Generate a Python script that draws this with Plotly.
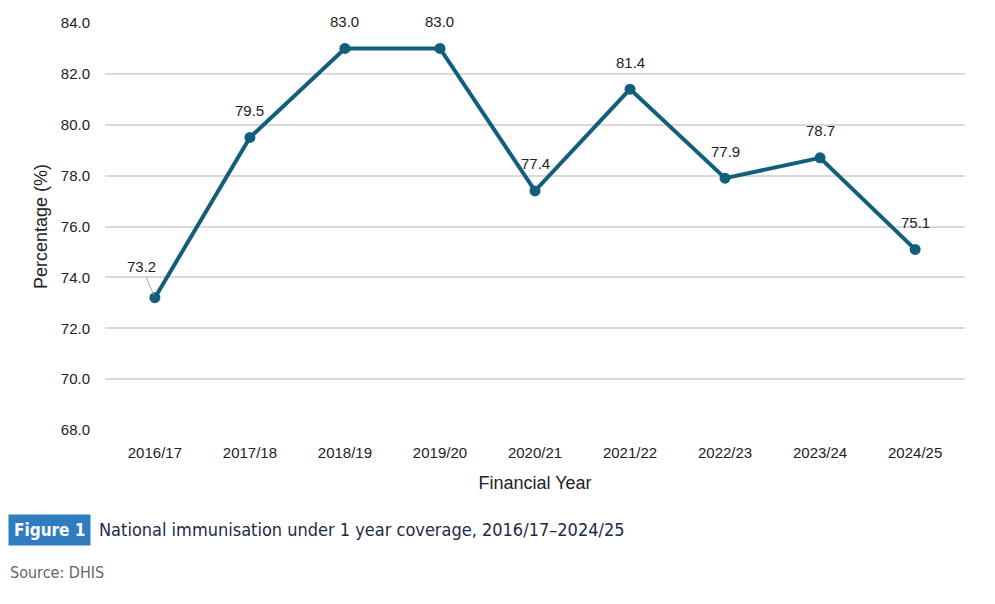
import plotly.graph_objects as go

#   Data
years = ["2016/17", "2017/18", "2018/19", "2019/20", "2020/21",
         "2021/22", "2022/23", "2023/24", "2024/25"]
coverage = [73.2, 79.5, 83.0, 83.0, 77.4, 81.4, 77.9, 78.7, 75.1]
y_ticks = [68, 70, 72, 74, 76, 78, 80, 82, 84]

line_color = "#135e7c"
narrow = "DejaVu Sans Condensed, Liberation Sans Narrow, sans-serif"

fig = go.Figure()
fig.add_trace(go.Scatter(
    x=years, y=coverage, mode="lines+markers",
    line=dict(color=line_color, width=4),
    marker=dict(color=line_color, size=11),
    cliponaxis=False, hoverinfo="x+y",
))

#   value labels above each point, the first one sits off with a leader line
for i, (yr, v) in enumerate(zip(years, coverage)):
    if i == 0:
        fig.add_annotation(
            x=yr, y=v, text=f"{v:.1f}",
            showarrow=True, arrowhead=0, arrowwidth=1, arrowcolor="#aaaaaa",
            ax=-13, ay=-31, standoff=3, font=dict(size=15, color="#222"),
        )
    else:
        fig.add_annotation(
            x=yr, y=v, text=f"{v:.1f}", showarrow=False,
            yshift=27, font=dict(size=15, color="#222"),
        )

#   caption under the chart
fig.add_annotation(
    xref="paper", yref="paper", x=-0.1128, y=-0.245,
    xanchor="left", yanchor="middle", showarrow=False,
    text="<b>Figure 1</b>", font=dict(family=narrow, size=17, color="white"),
    bgcolor="#2f7dc0", borderpad=5,
)
fig.add_annotation(
    xref="paper", yref="paper", x=-0.0093, y=-0.245,
    xanchor="left", yanchor="middle", showarrow=False,
    text="National immunisation under 1 year coverage, 2016/17\u20132024/25",
    font=dict(family=narrow, size=18, color="#1c2a48"),
)
fig.add_annotation(
    xref="paper", yref="paper", x=-0.1128, y=-0.35,
    xanchor="left", yanchor="middle", showarrow=False,
    text="Source: DHIS",
    font=dict(family=narrow, size=16, color="#666"),
)

fig.update_layout(
    width=979, height=588,
    margin=dict(l=97, r=22, t=15, b=166),
    paper_bgcolor="white", plot_bgcolor="white",
    font=dict(family="Liberation Sans, Arial, sans-serif", size=15, color="#222"),
    showlegend=False,
    xaxis=dict(
        title=dict(text="Financial Year", standoff=16),
        showgrid=False, showline=False, ticks="", ticklabelstandoff=12,
        automargin=False,
    ),
    yaxis=dict(
        title=dict(text="Percentage (%)", standoff=8),
        range=[68, 84], tickvals=y_ticks, tickformat=".1f",
        showgrid=True, gridcolor="#d9d9d9", gridwidth=1.5,
        zeroline=False, showline=False, ticks="", ticklabelstandoff=14,
        automargin=False,
    ),
)

fig.write_html("out.html")
